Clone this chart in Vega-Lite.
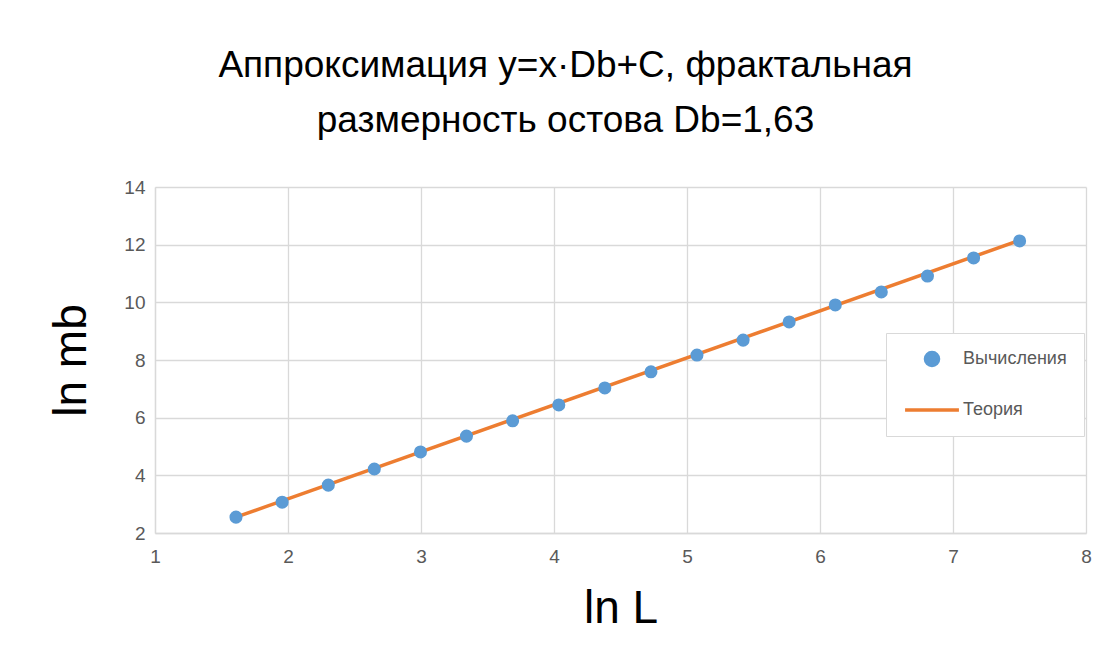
{
  "$schema": "https://vega.github.io/schema/vega-lite/v6.json",
  "autosize": "none",
  "width": 931,
  "height": 346,
  "padding": {"left": 155, "top": 187, "right": 27, "bottom": 137},
  "background": "white",
  "title": {
    "text": ["Аппроксимация y=x·Db+C, фрактальная", "размерность остова Db=1,63"],
    "font": "Liberation Sans Narrow, Liberation Sans, sans-serif",
    "fontSize": 37,
    "fontWeight": "normal",
    "color": "#000000",
    "anchor": "middle",
    "dx": -55,
    "offset": 38,
    "lineHeight": 55
  },
  "config": {
    "view": {"stroke": null},
    "axis": {
      "labelFont": "Liberation Sans Narrow, Liberation Sans, sans-serif",
      "labelFontSize": 19,
      "labelColor": "#595959",
      "titleFont": "Liberation Sans Narrow, Liberation Sans, sans-serif",
      "titleFontSize": 46,
      "titleFontWeight": "normal",
      "titleColor": "#000000",
      "gridColor": "#d9d9d9",
      "gridWidth": 1.3,
      "domainColor": "#d9d9d9",
      "domainWidth": 1.3,
      "ticks": false,
      "labelFlush": false
    }
  },
  "datasets": {
    "calc": [
      {"lnL": 1.609, "lnm": 2.55, "series": "Вычисления"},
      {"lnL": 1.956, "lnm": 3.07, "series": "Вычисления"},
      {"lnL": 2.303, "lnm": 3.66, "series": "Вычисления"},
      {"lnL": 2.649, "lnm": 4.22, "series": "Вычисления"},
      {"lnL": 2.996, "lnm": 4.81, "series": "Вычисления"},
      {"lnL": 3.342, "lnm": 5.36, "series": "Вычисления"},
      {"lnL": 3.689, "lnm": 5.89, "series": "Вычисления"},
      {"lnL": 4.036, "lnm": 6.44, "series": "Вычисления"},
      {"lnL": 4.382, "lnm": 7.03, "series": "Вычисления"},
      {"lnL": 4.729, "lnm": 7.59, "series": "Вычисления"},
      {"lnL": 5.075, "lnm": 8.17, "series": "Вычисления"},
      {"lnL": 5.422, "lnm": 8.69, "series": "Вычисления"},
      {"lnL": 5.768, "lnm": 9.32, "series": "Вычисления"},
      {"lnL": 6.115, "lnm": 9.91, "series": "Вычисления"},
      {"lnL": 6.461, "lnm": 10.36, "series": "Вычисления"},
      {"lnL": 6.808, "lnm": 10.91, "series": "Вычисления"},
      {"lnL": 7.155, "lnm": 11.54, "series": "Вычисления"},
      {"lnL": 7.501, "lnm": 12.13, "series": "Вычисления"}
    ],
    "theory": [
      {"lnL": 1.609, "lnm": 2.55, "series": "Теория"},
      {"lnL": 7.501, "lnm": 12.15, "series": "Теория"}
    ]
  },
  "layer": [
    {
      "data": {"name": "theory"},
      "mark": {"type": "line", "strokeWidth": 3.5},
      "encoding": {
        "x": {"field": "lnL", "type": "quantitative", "scale": {"domain": [1, 8], "nice": false, "zero": false}, "axis": {"title": "ln L", "values": [1,2,3,4,5,6,7,8], "format": "d", "labelPadding": 14, "titlePadding": 20}},
        "y": {"field": "lnm", "type": "quantitative", "scale": {"domain": [2, 14], "nice": false, "zero": false}, "axis": {"title": "ln mb", "values": [2,4,6,8,10,12,14], "format": "d", "labelPadding": 10, "titlePadding": 28}},
        "color": {"field": "series", "type": "nominal", "scale": {"domain": ["Вычисления", "Теория"], "range": ["#5B9BD5", "#ED7D31"]}}
      }
    },
    {
      "data": {"name": "calc"},
      "mark": {"type": "point", "filled": true, "opacity": 1, "strokeWidth": 3.5},
      "encoding": {
        "x": {"field": "lnL", "type": "quantitative"},
        "y": {"field": "lnm", "type": "quantitative"},
        "color": {"field": "series", "type": "nominal", "scale": {"domain": ["Вычисления", "Теория"], "range": ["#5B9BD5", "#ED7D31"]},
          "legend": {
            "title": null,
            "orient": "none",
            "legendX": 731,
            "legendY": 146,
            "padding": 17,
            "strokeColor": "#d9d9d9",
            "fillColor": "white",
            "labelFont": "Liberation Sans Narrow, Liberation Sans, sans-serif",
            "labelFontSize": 18,
            "labelColor": "#595959",
            "labelOffset": 2,
            "rowPadding": 8,
            "symbolStrokeWidth": 3.5
          }},
        "shape": {"field": "series", "type": "nominal", "scale": {"domain": ["Вычисления", "Теория"], "range": ["circle", "stroke"]}},
        "size": {"field": "series", "type": "nominal", "scale": {"domain": ["Вычисления", "Теория"], "range": [170, 2900]}}
      }
    }
  ]
}
